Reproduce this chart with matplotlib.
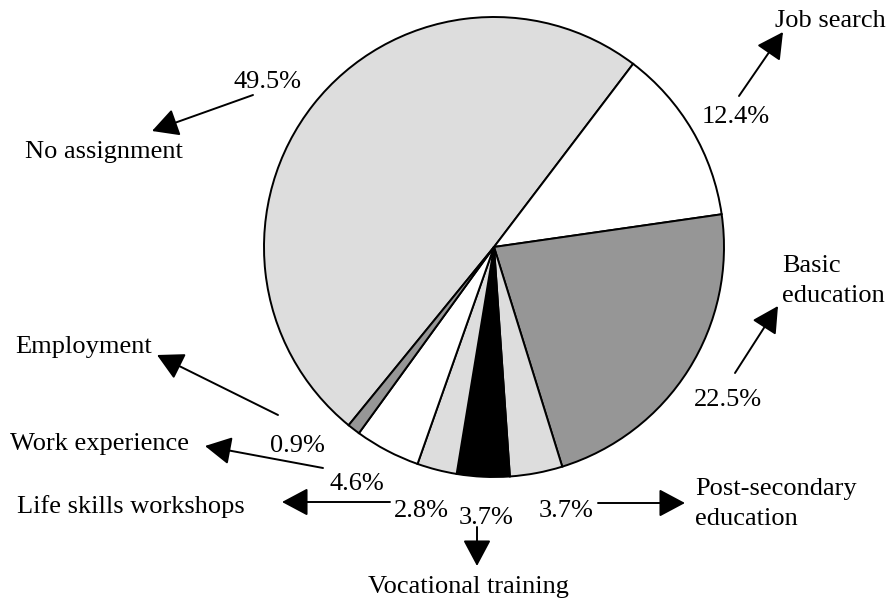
import matplotlib
matplotlib.use("Agg")
import matplotlib.pyplot as plt

# ---- data ----
categories = ["No assignment", "Job search", "Basic education",
              "Post-secondary education", "Vocational training",
              "Life skills workshops", "Work experience", "Employment"]
values = [49.5, 12.4, 22.5, 3.7, 3.7, 2.8, 4.6, 0.9]
pct_labels = ["49.5%", "12.4%", "22.5%", "3.7%", "3.7%", "2.8%", "4.6%", "0.9%"]
cat_labels = ["No assignment", "Job search", "Basic\neducation",
              "Post-secondary\neducation", "Vocational training",
              "Life skills workshops", "Work experience", "Employment"]
colors = ["#dddddd", "#ffffff", "#969696", "#dddddd", "#000000",
          "#dddddd", "#ffffff", "#969696"]

plt.rcParams['font.family'] = ['Liberation Serif', 'DejaVu Serif']
W, H = 890, 601
fig = plt.figure(figsize=(W / 100, H / 100), dpi=100)

# pie: centre (494, 247) px, radius 230 px
cx, cy, r = 494, 247, 230
ax = fig.add_axes([(cx - r) / W, 1 - (cy + r) / H, 2 * r / W, 2 * r / H])
ax.pie(values, colors=colors, startangle=230.8, counterclock=False,
       radius=1, wedgeprops=dict(edgecolor="black", linewidth=1.4))
ax.set_xlim(-1.0, 1.0)
ax.set_ylim(-1.0, 1.0)
ax.set_aspect('auto')
ax.axis('off')

# overlay in pixel coordinates
ov = fig.add_axes([0, 0, 1, 1])
ov.set_xlim(0, W)
ov.set_ylim(H, 0)
ov.axis('off')
ov.patch.set_visible(False)

fs = 19
arrow = dict(arrowstyle='-|>,head_length=0.6,head_width=0.32', mutation_scale=27,
             color='black', lw=1.4, shrinkA=0, shrinkB=0)

# percentage labels (center positions)
pct_pos = [(268, 82), (736, 117), (728, 400), (566, 511), (486, 518),
           (421, 511), (357, 484), (297, 446)]
for t, (x, y) in zip(pct_labels, pct_pos):
    ov.text(x, y, t, fontsize=fs, ha='center', va='center')

# category labels
cat_pos = [(25, 152, 'left'), (775, 21, 'left'), (782, 281, 'left'),
           (695, 504, 'left'), (468, 587, 'center'), (17, 507, 'left'),
           (10, 444, 'left'), (15, 347, 'left')]
for t, (x, y, ha) in zip(cat_labels, cat_pos):
    ov.text(x, y, t, fontsize=fs, ha=ha, va='center', linespacing=1.45)

# arrows: (from, to)
arrows = [((253, 95), (152, 131)),
          ((739, 96), (783, 32)),
          ((735, 373), (778, 306)),
          ((598, 503), (685, 503)),
          ((477, 527), (477, 566)),
          ((390, 502), (282, 502)),
          ((323, 468), (205, 446)),
          ((278, 415), (157, 355))]
for (x0, y0), (x1, y1) in arrows:
    ov.annotate("", xy=(x1, y1), xytext=(x0, y0), arrowprops=arrow)

fig.savefig("out.png", dpi=100)
